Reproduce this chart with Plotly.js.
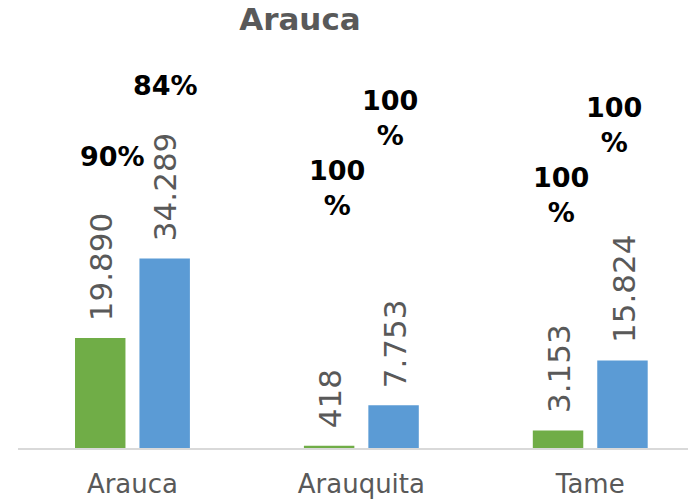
<!DOCTYPE html>
<html>
<head>
<meta charset="utf-8">
<script src="https://cdn.plot.ly/plotly-3.0.1.min.js"></script>
<style>
  html, body { margin: 0; padding: 0; background: #fff; }
  #chart { width: 688px; height: 501px; }
</style>
</head>
<body>
<div id="chart"></div>
<script>
const municipios = ['Arauca', 'Arauquita', 'Tame'];
const serieVerde = [19890, 418, 3153];
const serieAzul = [34289, 7753, 15824];
const pctVerde = [90, 100, 100];
const pctAzul = [84, 100, 100];

const fmtNum = (n) => n.toLocaleString('de-DE');
const fmtPctLabel = (p) => (p >= 100 ? `${p}<br>%` : `${p}%`);

// where the percent labels sit: pixel offset from category centre, height in axis units
const pctPosVerde = [[-19.5, 52700], [-24, 46950], [-29, 45700]];
const pctPosAzul = [[33.5, 65600], [29, 59700], [24, 58350]];
const barShift = 32.25;

const grey = '#595959';
const fontFam = 'DejaVu Sans, Verdana, sans-serif';

const traces = [
  {
    type: 'bar',
    x: municipios,
    y: serieVerde,
    marker: { color: '#70AD47' },
    hoverinfo: 'skip'
  },
  {
    type: 'bar',
    x: municipios,
    y: serieAzul,
    marker: { color: '#5B9BD5' },
    hoverinfo: 'skip'
  }
];

const annotations = [];
municipios.forEach((m, i) => {
  [[serieVerde, -barShift], [serieAzul, barShift]].forEach(([serie, dx]) => {
    annotations.push({
      x: i, y: serie[i], xref: 'x', yref: 'y',
      text: fmtNum(serie[i]),
      textangle: -90,
      showarrow: false,
      xanchor: 'center', yanchor: 'bottom',
      xshift: dx + 1, yshift: 15,
      font: { family: fontFam, size: 31, color: grey }
    });
  });
  [[pctVerde, pctPosVerde], [pctAzul, pctPosAzul]].forEach(([pct, pos]) => {
    annotations.push({
      x: i, y: pos[i][1], xref: 'x', yref: 'y',
      text: `<b>${fmtPctLabel(pct[i])}</b>`,
      showarrow: false,
      xanchor: 'center', yanchor: 'middle',
      xshift: pos[i][0],
      font: { family: fontFam, size: 27, color: '#000000' }
    });
  });
});

const layout = {
  width: 688,
  height: 501,
  paper_bgcolor: '#ffffff',
  plot_bgcolor: '#ffffff',
  margin: { l: 18, r: 0, t: 61, b: 53 },
  showlegend: false,
  barmode: 'group',
  bargap: 0.437,
  bargroupgap: 0.217,
  title: {
    text: '<b>Arauca</b>',
    font: { family: fontFam, size: 31, color: grey },
    x: 0.436, xref: 'container', xanchor: 'center',
    y: 0.962, yref: 'container', yanchor: 'middle'
  },
  xaxis: {
    type: 'category',
    range: [-0.5, 2.427],
    showline: true,
    linecolor: '#d9d9d9',
    linewidth: 2,
    ticks: '',
    ticklabelstandoff: 12,
    showgrid: false,
    zeroline: false,
    tickfont: { family: fontFam, size: 26, color: grey },
    fixedrange: true
  },
  yaxis: {
    range: [0, 70000],
    visible: false,
    showgrid: false,
    zeroline: false,
    fixedrange: true
  },
  annotations: annotations
};

Plotly.newPlot('chart', traces, layout, { displayModeBar: false, staticPlot: true });
</script>
</body>
</html>
